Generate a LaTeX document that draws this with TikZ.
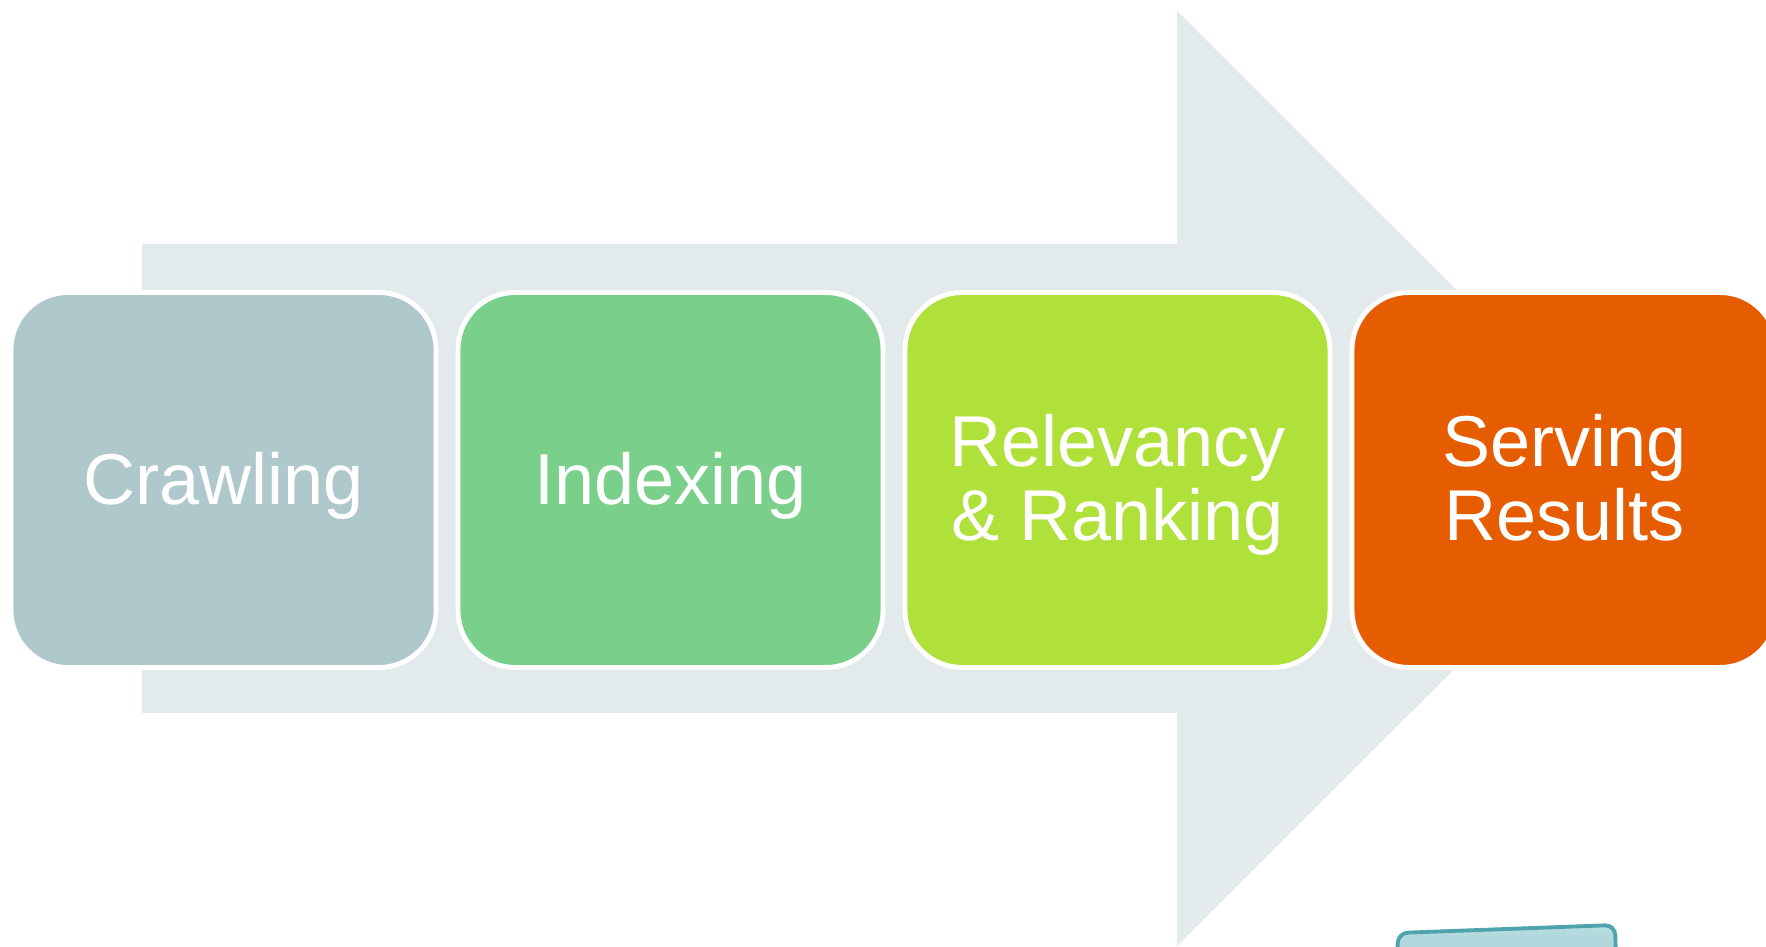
\documentclass[tikz,border=0pt]{standalone}
\usepackage{fontspec}
\setmainfont{Liberation Sans}
\usepackage{xcolor}
\usepackage{tikz}
\definecolor{arrowgrey}{HTML}{E2EAEC}
\definecolor{crawlblue}{HTML}{AFC8CC}
\definecolor{indexgreen}{HTML}{7AD08A}
\definecolor{rankgreen}{HTML}{B0E13A}
\definecolor{serveorange}{HTML}{E65C00}
\definecolor{trayteal}{HTML}{4FA3AD}
\definecolor{traylight}{HTML}{B8DCE0}
\usetikzlibrary{shapes.geometric, positioning, calc}

\begin{document}
\begin{tikzpicture}[
    stagebox/.style={rounded corners=0.57cm, draw=white, line width=1.4pt,
        minimum width=4.25cm, minimum height=3.75cm, outer sep=0pt},
    stagelabel/.style={text=white, align=center, inner sep=0pt,
        font=\fontsize{20.5}{21}\selectfont},
    node distance=0.22cm
]
\useasboundingbox (0,0) rectangle (17.66,9.47);
\clip (0,0) rectangle (17.66,9.47);

% Big arrow behind the stages
\fill[arrowgrey] (1.42,2.34) -- (1.42,7.03) -- (11.77,7.03) -- (11.77,9.36)
    -- (16.45,4.685) -- (11.77,0.01) -- (11.77,2.34) -- cycle;

% Stages
\node[stagebox, fill=crawlblue] (crawl) at (2.235,4.67) {};
\node[stagebox, fill=indexgreen, right=of crawl] (index) {};
\node[stagebox, fill=rankgreen, right=of index] (rank) {};
\node[stagebox, fill=serveorange, right=of rank] (serve) {};

% Stage names, a touch below centre
\node[stagelabel] (crawltext) at ([yshift=-0.055cm]crawl.center) {Crawling};
\node[stagelabel] (indextext) at ([yshift=-0.055cm]index.center) {Indexing};
\node[stagelabel] (ranktext) at ([yshift=-0.05cm]rank.center) {Relevancy\\\& Ranking};
\node[stagelabel] (servetext) at ([yshift=0.025cm]serve.center) {Serving\\Results};

% Tray peeking in at the bottom
\draw[trayteal, line width=1.1pt, rounded corners=0.1cm, top color=traylight,
    bottom color=trayteal!60] (13.96,-0.5) -- (13.98,0.14) -- (16.15,0.22) -- (16.17,-0.5);
\end{tikzpicture}
\end{document}
